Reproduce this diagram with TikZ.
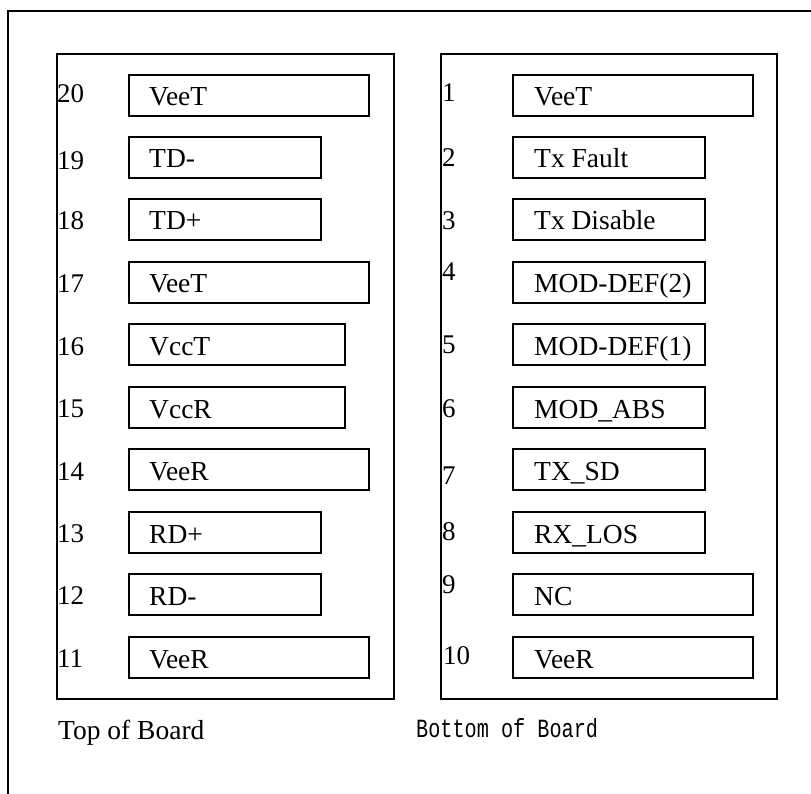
\documentclass[tikz,border=0pt]{standalone}
\usepackage{fontspec}
\setmainfont{Liberation Serif}
\newfontfamily\boardmono{Liberation Mono}
\usepackage{graphicx}

\tikzset{
  frameline/.style={line width=1.8pt, draw=black},
  panel/.style={line width=2.4pt, draw=black},
  pinbox/.style={draw=black, line width=2pt, inner sep=0pt, anchor=north west, minimum height=41pt},
  pinnum/.style={inner sep=0pt, anchor=base west, font=\fontsize{27}{30}\selectfont},
  pinlabel/.style={inner sep=0pt, anchor=base west, font=\fontsize{27.5}{30}\selectfont},
  caption/.style={inner sep=0pt, anchor=base west},
}

\begin{document}
\begin{tikzpicture}[x=1pt, y=-1pt]
  \useasboundingbox (0,0) rectangle (811,794);
  \begin{scope}
    \clip (0,0) rectangle (811,794);
    % outer page frame
    \draw[frameline] (8,11) rectangle (820,805);
  \end{scope}

  % the two board panels
  \node[panel, inner sep=0pt, anchor=north west, minimum width=337pt, minimum height=645pt] (topboard) at (56,53) {};
  \node[panel, inner sep=0pt, anchor=north west, minimum width=336pt, minimum height=645pt] (botboard) at (440,53) {};

  % top of board: number / box top / box right edge / label / number baseline
  \foreach \n/\t/\r/\lab/\nb in {
      20/74/368/VeeT/103,
      19/136/320/TD-/170,
      18/198/320/TD+/230,
      17/261/368/VeeT/293,
      16/323/344/VccT/355,
      15/386/344/VccR/417,
      14/448/368/VeeR/480,
      13/511/320/RD+/542,
      12/573/320/RD-/604,
      11/636/368/VeeR/667} {
    \pgfmathsetmacro{\w}{\r-128}
    \node[pinbox, minimum width=\w pt] (tbox\n) at (128,\t) {};
    \node[pinlabel] (tlab\n) at (149,\t+32) {\lab};
    \node[pinnum] (tnum\n) at (57,\nb) {\n};
  }

  % bottom of board
  \foreach \n/\t/\r/\lab/\nb/\nx in {
      1/74/752/VeeT/102/442,
      2/136/704/Tx Fault/167/442,
      3/198/704/Tx Disable/230/442,
      4/261/704/MOD-DEF(2)/281/442,
      5/323/704/MOD-DEF(1)/353/442,
      6/386/704/MOD\_ABS/417/442,
      7/448/704/TX\_SD/484/442,
      8/511/704/RX\_LOS/540/442,
      9/573/752/NC/593/442,
      10/636/752/VeeR/664/443} {
    \pgfmathsetmacro{\w}{\r-512}
    \node[pinbox, minimum width=\w pt] (bbox\n) at (512,\t) {};
    \node[pinlabel] (blab\n) at (534,\t+32) {\lab};
    \node[pinnum] (bnum\n) at (\nx,\nb) {\n};
  }

  % captions
  \node[caption, font=\fontsize{27.5}{30}\selectfont] (toptitle) at (58,739) {Top of Board};
  \node[caption] (bottitle) at (416,737) {\scalebox{1}[1.3]{\boardmono\fontsize{20.2}{24}\selectfont Bottom of Board}};
\end{tikzpicture}
\end{document}
